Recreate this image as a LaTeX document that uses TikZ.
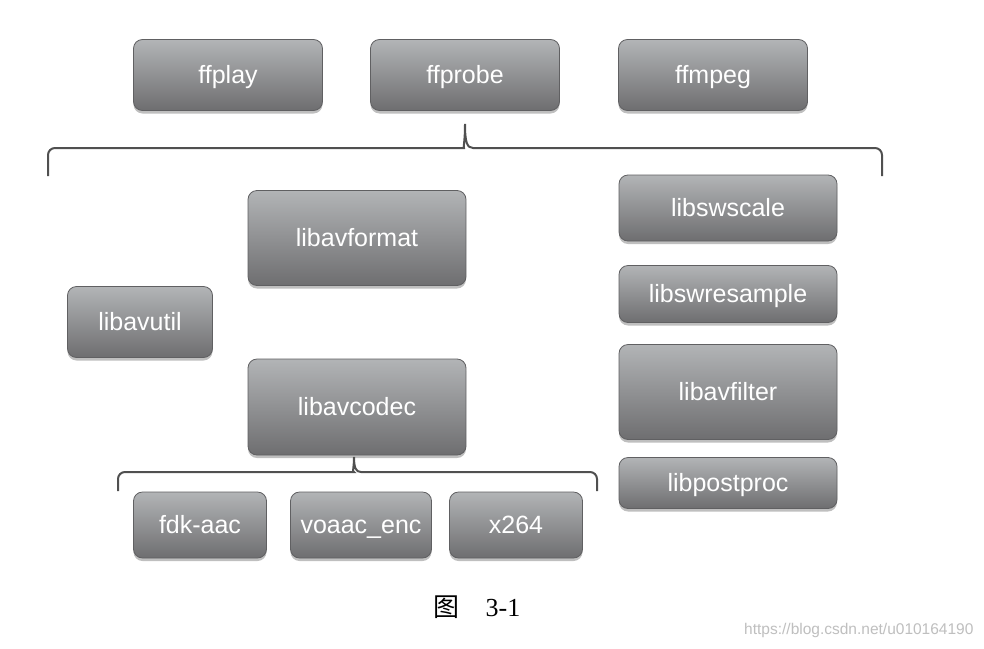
\documentclass[tikz,border=0pt]{standalone}
\usepackage{fontspec}
\setmainfont{Liberation Serif}
\setsansfont{Liberation Sans}
\newfontfamily\cjk{Noto Sans CJK SC}
\usepackage{tikz}
\definecolor{Boxtop}{RGB}{178,180,182}
\definecolor{Boxbot}{RGB}{110,110,112}
\definecolor{Boxline}{RGB}{96,96,98}
\definecolor{Brace}{RGB}{80,80,80}
\usetikzlibrary{shadows}

\tikzset{
  libbox/.style={rounded corners=9pt, draw=Boxline, line width=0.8pt,
                 top color=Boxtop, bottom color=Boxbot, inner sep=0pt,
                 text height=20pt, text depth=3pt,
                 drop shadow={shadow xshift=0pt, shadow yshift=-3pt,
                              opacity=0.25, fill=black},
                 font=\sffamily\fontsize{25}{28}\selectfont, text=white},
  brace/.style={draw=Brace, line width=2pt, rounded corners=7pt}
}

\begin{document}
\begin{tikzpicture}[x=1pt, y=-1pt]
    \fill[white] (0,0) rectangle (984,648);
    \useasboundingbox (0,0) rectangle (984,648);

    % tools
    \node (ffplay)  [libbox, minimum width=189pt, minimum height=71pt] at (228,75) {ffplay};
    \node (ffprobe) [libbox, minimum width=189pt, minimum height=71pt] at (465,75) {ffprobe};
    \node (ffmpeg)  [libbox, minimum width=189pt, minimum height=71pt] at (713,75) {ffmpeg};

    \coordinate (bigL) at (48,176);
    \coordinate (bigR) at (882,176);
    \coordinate (bigtip) at (465,124);
    \draw[brace] (bigL) -- (48,148) -- (457,148)
        [sharp corners] .. controls (463,148) and (465,142) .. (bigtip)
        .. controls (465,142) and (467,148) .. (473,148)
        [rounded corners=7pt] -- (882,148) -- (bigR);

    % libraries
    \node (libavformat) [libbox, minimum width=218pt, minimum height=95pt] at (357,238) {libavformat};
    \node (libavutil)   [libbox, minimum width=145pt, minimum height=71pt] at (140,322) {libavutil};
    \node (libavcodec)  [libbox, minimum width=218pt, minimum height=96pt] at (357,407) {libavcodec};

    \node (libswscale)    [libbox, minimum width=218pt, minimum height=66pt] at (728,208) {libswscale};
    \node (libswresample) [libbox, minimum width=218pt, minimum height=57pt] at (728,294) {libswresample};
    \node (libavfilter)   [libbox, minimum width=218pt, minimum height=95pt] at (728,392) {libavfilter};
    \node (libpostproc)   [libbox, minimum width=218pt, minimum height=51pt] at (728,483) {libpostproc};

    \coordinate (smallL) at (118,491);
    \coordinate (smallR) at (597,491);
    \coordinate (smalltip) at (354,457);
    \draw[brace] (smallL) -- (118,472) -- (347,472)
        [sharp corners] .. controls (352,472) and (354,468) .. (smalltip)
        .. controls (354,468) and (356,472) .. (361,472)
        [rounded corners=7pt] -- (597,472) -- (smallR);

    % codecs
    \node (fdkaac)   [libbox, minimum width=133pt, minimum height=66pt] at (200,525) {fdk-aac};
    \node (voaacenc) [libbox, minimum width=141pt, minimum height=66pt] at (361,525) {voaac\_enc};
    \node (xtwo)     [libbox, minimum width=133pt, minimum height=66pt] at (516,525) {x264};

    \node (caption) at (477,607) {\fontsize{26}{30}\selectfont{\cjk 图}\hspace{1em}3-1};
    \node (mark) [anchor=east, text=black!25] at (977,630)
        {\sffamily\fontsize{15.5}{17}\selectfont https://blog.csdn.net/u010164190};
\end{tikzpicture}
\end{document}
